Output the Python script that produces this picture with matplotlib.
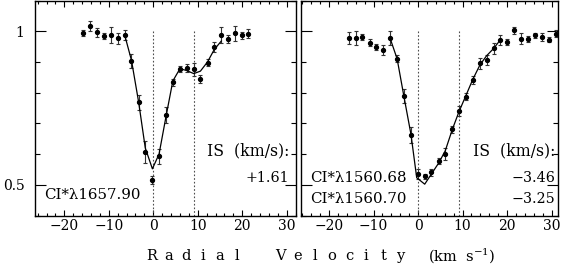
#! /usr/bin/env python3

#Plot of two normalized CI* line profiles against radial velocity.

import matplotlib
matplotlib.use('Agg')
import matplotlib.pyplot as plt
from matplotlib.ticker import MultipleLocator, FixedLocator, FixedFormatter

#Left panel : CI* 1657.90
velLeft = [-15.7, -14.2, -12.6, -11.1, -9.5, -8.0, -6.4, -4.9, -3.3, -1.8,
           -0.2, 1.3, 2.9, 4.4, 6.0, 7.5, 9.1, 10.6, 12.2, 13.7,
           15.3, 16.8, 18.3, 19.9, 21.4]
fluxLeft = [0.994, 1.017, 0.996, 0.984, 0.988, 0.977, 0.988, 0.903, 0.768, 0.606,
            0.514, 0.593, 0.726, 0.834, 0.877, 0.879, 0.876, 0.846, 0.898, 0.949,
            0.988, 0.975, 0.993, 0.987, 0.992]
errLeft = [0.011, 0.015, 0.015, 0.010, 0.026, 0.017, 0.016, 0.024, 0.024, 0.035,
           0.013, 0.025, 0.026, 0.012, 0.010, 0.013, 0.022, 0.013, 0.012, 0.016,
           0.025, 0.012, 0.025, 0.011, 0.015]
modelVelLeft = [-6.4, -4.9, -3.3, -1.8, -0.2, 1.3, 2.9, 4.4, 6.0, 7.5,
                9.1, 10.6, 12.2, 13.7, 15.3]
modelFluxLeft = [0.986, 0.905, 0.770, 0.620, 0.552, 0.600, 0.725, 0.838, 0.878, 0.872,
                 0.862, 0.870, 0.900, 0.940, 0.968]

#Right panel : CI* 1560.68 and 1560.70
velRight = [-15.6, -14.0, -12.5, -10.9, -9.4, -7.8, -6.3, -4.7, -3.2, -1.6,
            -0.1, 1.5, 3.0, 4.6, 6.1, 7.7, 9.2, 10.8, 12.3, 13.9,
            15.4, 17.0, 18.5, 20.1, 21.6, 23.2, 24.7, 26.3, 27.8, 29.4, 30.9]
fluxRight = [0.978, 0.979, 0.981, 0.963, 0.948, 0.939, 0.978, 0.911, 0.788, 0.662,
             0.536, 0.527, 0.540, 0.578, 0.600, 0.680, 0.740, 0.787, 0.841, 0.895,
             0.906, 0.944, 0.971, 0.966, 1.003, 0.976, 0.975, 0.987, 0.982, 0.973, 0.992]
errRight = [0.018, 0.023, 0.009, 0.012, 0.010, 0.015, 0.022, 0.011, 0.023, 0.026,
            0.016, 0.008, 0.010, 0.009, 0.020, 0.012, 0.017, 0.012, 0.013, 0.017,
            0.017, 0.017, 0.016, 0.010, 0.011, 0.019, 0.009, 0.008, 0.013, 0.009, 0.012]
modelVelRight = [-6.3, -4.7, -3.2, -1.6, -0.3, 1.5, 3.0, 4.6, 6.1, 7.7,
                 9.2, 10.8, 12.3, 13.9, 15.4, 17.0, 18.5]
modelFluxRight = [0.978, 0.910, 0.790, 0.665, 0.523, 0.502, 0.535, 0.570, 0.610, 0.680,
                  0.738, 0.792, 0.843, 0.890, 0.920, 0.944, 0.972]

#Interstellar component velocities (dotted lines).
isVel = [0.0, 9.1]

xTicks = [-20, -10, 0, 10, 20, 30]
xTickLabels = ['\u221220', '\u221210', '0', '10', '20', '30']
yTicks = [0.5, 1.0]
yTickLabels = ['0.5', '1']

lineLabelsLeft = ['CI*\u03bb1657.90']
isValuesLeft = ['+1.61']
lineLabelsRight = ['CI*\u03bb1560.68', 'CI*\u03bb1560.70']
isValuesRight = ['\u22123.46', '\u22123.25']


def drawPanel(ax, vel, flux, err, mvel, mflux, xlim, showYLabels) :
  #Dotted lines marking the interstellar components.
  for v in isVel :
    ax.plot([v, v], [0.4, 1.0], color = '0.3', lw = 0.8,
            linestyle = (0, (1.5, 1.8)))
  #Data points with error bars.
  ax.errorbar(vel, flux, yerr = err, fmt = 'o', color = 'black', ms = 2.8,
              ecolor = '0.2', elinewidth = 0.8, capsize = 1.6, capthick = 0.8)
  #Model fit.
  ax.plot(mvel, mflux, color = 'black', lw = 0.9)

  ax.set_xlim(xlim)
  ax.set_ylim(0.4, 1.1)
  ax.xaxis.set_major_locator(FixedLocator(xTicks))
  ax.xaxis.set_major_formatter(FixedFormatter(xTickLabels))
  ax.xaxis.set_minor_locator(MultipleLocator(2))
  ax.yaxis.set_major_locator(FixedLocator(yTicks))
  ax.yaxis.set_minor_locator(MultipleLocator(0.1))
  if showYLabels :
    ax.yaxis.set_major_formatter(FixedFormatter(yTickLabels))
  else :
    ax.set_yticklabels([])
  ax.tick_params(which = 'both', direction = 'in', top = True, right = True,
                 width = 0.8, colors = 'black')
  ax.tick_params(axis = 'x', which = 'major', length = 4.5, pad = 2.5, labelsize = 10)
  ax.tick_params(axis = 'x', which = 'minor', length = 2.3)
  ax.tick_params(axis = 'y', which = 'major', length = 8, pad = 7.5, labelsize = 10)
  ax.tick_params(axis = 'y', which = 'minor', length = 3.8)
  for s in ax.spines.values() :
    s.set_linewidth(1.0)


def main() :
  plt.rcParams['font.family'] = ['DejaVu Serif']
  plt.rcParams['mathtext.fontset'] = 'dejavuserif'

  fig = plt.figure(figsize = (5.64, 2.66), dpi = 100)
  axL = fig.add_axes([35/564, 50.5/266, 261/564, 215/266])
  axR = fig.add_axes([301/564, 50.5/266, 257/564, 215/266])

  drawPanel(axL, velLeft, fluxLeft, errLeft, modelVelLeft, modelFluxLeft,
            (-26.6, 32.1), True)
  drawPanel(axR, velRight, fluxRight, errRight, modelVelRight, modelFluxRight,
            (-26.3, 31.45), False)

  #Labels inside the left panel.
  axL.text(-24.6, 0.467, lineLabelsLeft[0], fontsize = 10.8, ha = 'left', va = 'center')
  axL.text(30.6, 0.611, 'IS  (km/s):', fontsize = 11.3, ha = 'right', va = 'center')
  axL.text(30.6, 0.523, isValuesLeft[0], fontsize = 10.3, ha = 'right', va = 'center')

  #Labels inside the right panel.
  axR.text(-24.3, 0.523, lineLabelsRight[0], fontsize = 10.8, ha = 'left', va = 'center')
  axR.text(-24.3, 0.455, lineLabelsRight[1], fontsize = 10.8, ha = 'left', va = 'center')
  axR.text(30.8, 0.611, 'IS  (km/s):', fontsize = 11.3, ha = 'right', va = 'center')
  axR.text(30.8, 0.523, isValuesRight[0], fontsize = 10.3, ha = 'right', va = 'center')
  axR.text(30.8, 0.455, isValuesRight[1], fontsize = 10.3, ha = 'right', va = 'center')

  #Letter spaced axis title under both panels.
  yLab = 1 - 256/266
  for i, ch in enumerate('Radial') :
    fig.text((151.7 + 17.1*i)/564, yLab, ch, fontsize = 10.5, ha = 'center', va = 'center')
  for i, ch in enumerate('Velocity') :
    fig.text((280.7 + 17.1*i)/564, yLab, ch, fontsize = 10.5, ha = 'center', va = 'center')
  fig.text(428/564, yLab, '(km  s$^{-1}$)', fontsize = 10.5, ha = 'left', va = 'center')

  fig.savefig('out.png', dpi = 100)


if __name__ == '__main__':
  main()
